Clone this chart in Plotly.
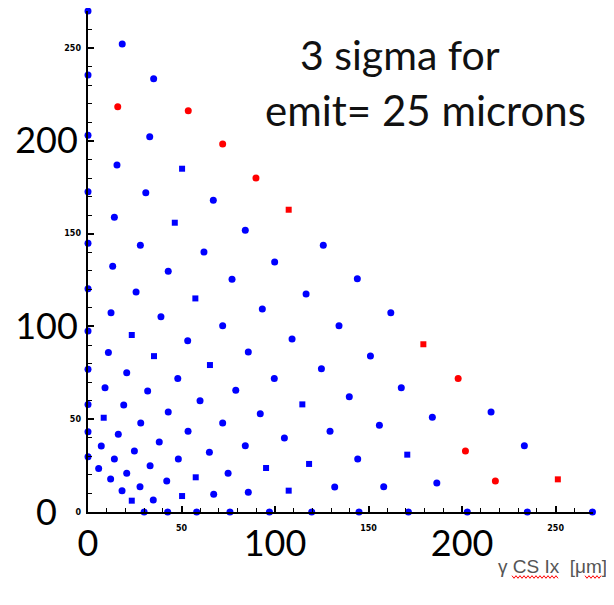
import plotly.graph_objects as go

# Blue circular markers (x, y) in data units (µm)
blue_x = [0, 18.3, 35.1, 125.8, 144, 161.9, 215.5, 233.3, 269.7,
          0, 33, 67, 84.1, 99.8, 116.6, 134.2, 151, 167.5, 184.1, 234.9,
          0, 15.5, 30.9, 62, 77, 93.2, 109.1, 124.8, 139.7, 155.8, 186.5, 202.8,
          0, 14.1, 28, 42.9, 72, 85.7, 99.6, 129.4, 144.2, 158.1, 171.3,
          0, 13.2, 25.7, 39, 53.3, 79, 92.1, 105, 131.9, 144.9,
          0, 12.3, 48, 59.9, 72, 84.1, 119.6,
          0, 10.9, 20.7, 31.9, 42.9, 53.5, 64.9, 74.9, 85.7, 97,
          0, 9.1, 19.1, 28.2, 38.1, 48.3, 67.2, 75.9,
          0, 16.2, 24.8, 33.2, 42.1, 58.1,
          0, 7.1, 14.1, 20.7, 27.8, 34.9, 42.6,
          0, 5.7, 12.1, 18.2, 30]
blue_y = [270, 252.2, 233.5, 143.7, 125.7, 107.4, 53.9, 35.7, 0,
          235.5, 202.2, 168, 151.8, 134.7, 117.5, 100.4, 84.1, 67, 51, 0,
          203.1, 187, 172, 140.1, 125.4, 109.4, 93.2, 77.2, 62.1, 46.7, 15.6, 0,
          172.6, 158.8, 143.7, 129.7, 100.4, 86.2, 72, 43.5, 28.6, 13.6, 0,
          144.8, 132.5, 118.5, 105.2, 92.3, 65.6, 53, 39.9, 13.5, 0,
          120.3, 107.4, 72, 60, 48, 35.7, 0,
          97.5, 86, 75, 65.2, 53.9, 43.5, 32.2, 20.9, 10.6, 0,
          76.9, 67, 57.7, 48, 37.7, 28.6, 9.5, 0,
          58, 41.9, 32.9, 24.9, 16.7, 0,
          43.3, 35.6, 28.6, 20.9, 13.6, 6.5, 0,
          29.8, 23.5, 17.8, 11.5, 0]

# Blue square markers
blue_sq_x = [50.3, 46.4, 57.4, 114.6, 65.2, 118.2, 23.4, 35.3, 95.2, 107.3,
             57.6, 8.4, 50.3, 23.4, 170.7]
blue_sq_y = [185, 155.9, 115.1, 58, 79.2, 25.9, 95.4, 84, 23.7, 11.5,
             18.7, 50.8, 8.6, 6.1, 30.9]

# Red (3 sigma) markers
red_x = [53.6, 72, 89.8, 197.9, 15.9, 201.8, 217.8]
red_y = [216.2, 198.3, 180, 72, 218.4, 32.9, 16.7]
red_sq_x = [107.3, 179.3, 251.2]
red_sq_y = [162.9, 90.4, 17.6]

big_ticks_x = [0, 100, 200]
big_ticks_y = [100, 200]
zero_tick = [0]
small_ticks_x = [50, 150, 250]
small_ticks_y = [0, 50, 150, 250]

BLUE = "#0000FF"
RED = "#FF0000"
FONT = "Lato"

fig = go.Figure()
fig.add_trace(go.Scatter(x=blue_x, y=blue_y, mode="markers",
                         marker=dict(color=BLUE, size=7, symbol="circle"),
                         cliponaxis=False, showlegend=False))
fig.add_trace(go.Scatter(x=blue_sq_x, y=blue_sq_y, mode="markers",
                         marker=dict(color=BLUE, size=6, symbol="square"),
                         cliponaxis=False, showlegend=False))
fig.add_trace(go.Scatter(x=red_x, y=red_y, mode="markers",
                         marker=dict(color=RED, size=7, symbol="circle"),
                         cliponaxis=False, showlegend=False))
fig.add_trace(go.Scatter(x=red_sq_x, y=red_sq_y, mode="markers",
                         marker=dict(color=RED, size=6, symbol="square"),
                         cliponaxis=False, showlegend=False))
fig.add_trace(go.Scatter(x=[None], y=[None], xaxis="x2", yaxis="y2",
                         mode="markers", showlegend=False))
fig.add_trace(go.Scatter(x=[None], y=[None], xaxis="x", yaxis="y3",
                         mode="markers", showlegend=False))

common = dict(range=[0, 270], showgrid=False, zeroline=False)

# page body has an 8px margin, so the figure is sized to fit the window
W, H = 606, 597
ML, MR, MT, MB = 80, 21, 3, 93
PW, PH = W - ML - MR, H - MT - MB


def px_to_paper(px, py):
    # reference-window pixel -> paper coordinates
    return (px - 8 - ML) / PW, (H - MB - (py - 8)) / PH


def squiggle(x0, x1, y, amp=1.3, period=4.0):
    pts = []
    n = int((x1 - x0) / (period / 2))
    for i in range(n + 1):
        xx = x0 + i * period / 2
        yy = y + (amp if i % 2 else -amp)
        pts.append(px_to_paper(xx, yy))
    return "M " + " L ".join(f"{a:.4f},{b:.4f}" for a, b in pts)


ann = []
for txt, (px, py), size, fam, col in [
    ("3 sigma for", (400, 54), 41, FONT, "#111111"),
    ("emit= 25 microns", (425, 110), 42, FONT, "#111111"),
    ("γ CS Ix  [μm]", (552, 566), 19, "Liberation Sans", "#555555"),
]:
    ax_, ay_ = px_to_paper(px, py)
    ann.append(dict(text=txt, xref="paper", yref="paper", x=ax_, y=ay_,
                    xanchor="center", yanchor="middle", showarrow=False,
                    font=dict(family=fam, size=size, color=col)))

shapes = [dict(type="path", xref="paper", yref="paper", path=squiggle(x0, x1, 577),
               line=dict(color="#FF0000", width=1)) for x0, x1 in [(512, 558), (585, 602)]]

minor = dict(dtick=10, tick0=0, ticks="inside", ticklen=4,
             tickwidth=1.2, tickcolor="black")
bigfont = dict(family=FONT, size=36, color="black")
smallfont = dict(family="DejaVu Sans", size=8, color="black")

fig.update_layout(
    width=W, height=H,
    margin=dict(l=ML, r=MR, t=MT, b=MB, autoexpand=False),
    paper_bgcolor="white", plot_bgcolor="white",
    xaxis=dict(**common, tickmode="array", tickvals=big_ticks_x,
               ticktext=[str(v) for v in big_ticks_x],
               ticks="inside", ticklen=6, tickwidth=1.5, tickcolor="black",
               showline=True, linecolor="black", linewidth=2,
               tickfont=bigfont, ticklabelstandoff=-1, automargin=False,
               minor=minor),
    yaxis=dict(**common, tickmode="array", tickvals=big_ticks_y,
               ticktext=[str(v) for v in big_ticks_y],
               ticks="inside", ticklen=6, tickwidth=1.5, tickcolor="black",
               showline=True, linecolor="black", linewidth=2,
               tickfont=bigfont, ticklabelstandoff=1, automargin=False,
               minor=minor),
    yaxis3=dict(**common, overlaying="y", anchor="x", side="left",
                tickmode="array", tickvals=zero_tick,
                ticktext=[str(v) for v in zero_tick],
                ticks="", showline=False, automargin=False,
                tickfont=bigfont, ticklabelstandoff=30),
    xaxis2=dict(**common, overlaying="x", anchor="y2", side="bottom",
                tickmode="array", tickvals=small_ticks_x,
                ticktext=[f"<b>{v}</b>" for v in small_ticks_x],
                ticks="inside", ticklen=6, tickwidth=1.5, tickcolor="black",
                showline=False, automargin=False,
                tickfont=smallfont, ticklabelstandoff=10),
    yaxis2=dict(**common, overlaying="y", anchor="x2", side="left",
                tickmode="array", tickvals=small_ticks_y,
                ticktext=[f"<b>{v}</b>" for v in small_ticks_y],
                ticks="inside", ticklen=6, tickwidth=1.5, tickcolor="black",
                showline=False, automargin=False,
                tickfont=smallfont, ticklabelstandoff=6),
    annotations=ann,
    shapes=shapes,
)

fig.write_html("out.html")
